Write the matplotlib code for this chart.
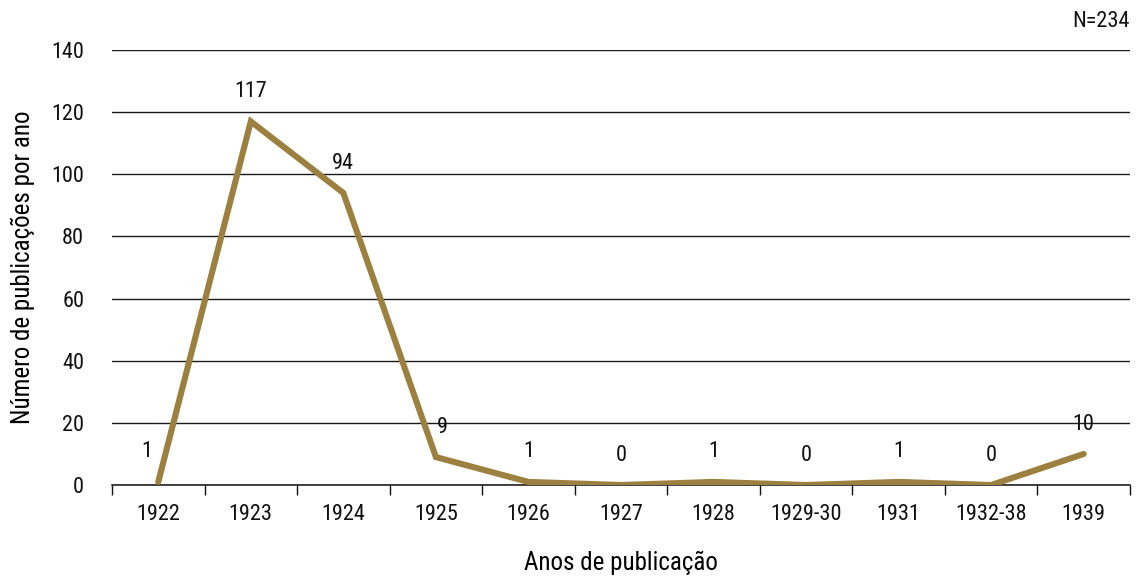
import matplotlib.pyplot as plt
from matplotlib import font_manager

anos = ["1922", "1923", "1924", "1925", "1926", "1927", "1928",
        "1929-30", "1931", "1932-38", "1939"]
publicacoes = [1, 117, 94, 9, 1, 0, 1, 0, 1, 0, 10]

# fonte condensada, se houver
names = {f.name for f in font_manager.fontManager.ttflist}
fam = "DejaVu Sans"
for cand in ["Roboto Condensed", "Archivo Narrow", "Liberation Sans Narrow",
             "Barlow Semi Condensed"]:
    if cand in names:
        fam = cand
        break
plt.rcParams["font.family"] = [fam, "DejaVu Sans"]
plt.rcParams["font.size"] = 16
plt.rcParams["text.color"] = "#111111"

fig = plt.figure(figsize=(11.37, 5.77), dpi=100)
ax = fig.add_axes([0.0985, 0.1594, 0.8953, 0.7539])

x = list(range(len(anos)))
ax.plot(x, publicacoes, color="#9C803F", lw=4.4, solid_capstyle="round",
        solid_joinstyle="miter", zorder=3)

# rótulos: afastar do traço quando o segmento vizinho é íngreme
n = len(publicacoes)
for i, v in enumerate(publicacoes):
    dx = 0
    if i + 1 < n and publicacoes[i + 1] > v + 50:
        dx = -8
    if i > 0 and publicacoes[i - 1] > v + 50:
        dx = 5
    ax.annotate(str(v), (i, v), xytext=(dx, 14), textcoords="offset points",
                ha="center", va="bottom", fontsize=16)

ax.set_xlim(-0.5, n - 0.5)
ax.set_ylim(0, 140)
ax.set_yticks(range(0, 141, 20))
ax.yaxis.grid(True, color="#1a1a1a", lw=1.0)
ax.set_axisbelow(True)
ax.tick_params(axis="y", length=0, pad=20, labelsize=16, labelcolor="#111111")

ax.set_xticks(x)
ax.set_xticklabels(anos)
ax.set_xticks([i - 0.5 for i in range(n + 1)], minor=True)
ax.tick_params(axis="x", which="major", length=0, pad=14, labelsize=16,
               labelcolor="#111111")
ax.tick_params(axis="x", which="minor", length=7, width=1.0, color="#111111")

for s in ["left", "right", "top"]:
    ax.spines[s].set_visible(False)
ax.spines["bottom"].set_color("#111111")
ax.spines["bottom"].set_linewidth(1.1)

ax.set_xlabel("Anos de publicação", fontsize=18, labelpad=18)
ax.set_ylabel("Número de publicações por ano", fontsize=18, labelpad=12)

fig.text(0.994, 0.962, "N=234", ha="right", va="center", fontsize=16)

fig.savefig("out.png", dpi=100)
